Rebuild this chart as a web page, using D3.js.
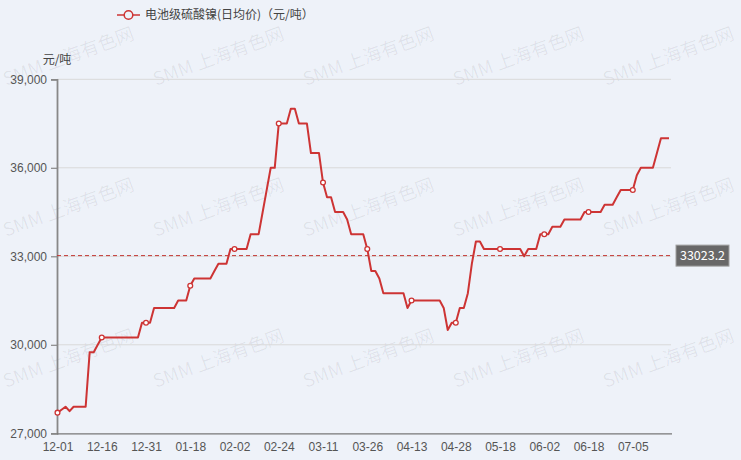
<!DOCTYPE html>
<html><head><meta charset="utf-8">
<script src="https://cdn.jsdelivr.net/npm/d3@7/dist/d3.min.js"></script>
<style>
html,body{margin:0;padding:0;background:#eef2f9;}
svg{display:block;font-family:"Microsoft YaHei","Noto Sans CJK SC","Noto Sans",sans-serif;}
</style></head><body>
<svg id="c" width="741" height="460"></svg>
<script>
const seriesName = "电池级硫酸镍(日均价)（元/吨）";
const yUnit = "元/吨";
const prices = [
  27700,27800,27900,27750,27900,27900,27900,27900,29750,29750,
  30000,30250,30250,30250,30250,30250,30250,30250,30250,30250,
  30250,30750,30750,30750,31250,31250,31250,31250,31250,31250,
  31500,31500,31500,32000,32250,32250,32250,32250,32250,32500,
  32750,32750,32750,33250,33250,33250,33250,33250,33750,33750,
  33750,34500,35250,36000,36000,37500,37500,37500,38000,38000,
  37500,37500,37500,36500,36500,36500,35500,35000,35000,34500,
  34500,34500,34250,33750,33750,33750,33750,33250,32500,32500,
  32250,31750,31750,31750,31750,31750,31750,31250,31500,31500,
  31500,31500,31500,31500,31500,31500,31250,30500,30750,30750,
  31250,31250,31750,32750,33500,33500,33250,33250,33250,33250,
  33250,33250,33250,33250,33250,33250,33000,33250,33250,33250,
  33750,33750,33750,34000,34000,34000,34250,34250,34250,34250,
  34250,34500,34500,34500,34500,34500,34750,34750,34750,35000,
  35250,35250,35250,35250,35750,36000,36000,36000,36000,36500,
  37000,37000,37000
];
const xTickLabels = ["12-01","12-16","12-31","01-18","02-02","02-24","03-11","03-26","04-13","04-28","05-18","06-02","06-18","07-05"];
const labelInterval = 11;
const yTicks = [27000,30000,33000,36000,39000];
const markValue = 33023.2;
const watermarkText = "SMM 上海有色网";

(function(){
const svg = d3.select("#c");
const W = 741, H = 460;
const gLeft = 57, gRight = 671, gTop = 79.3, gBottom = 433.3;
const lineColor = "#cd3434", markColor = "#c23531", textColor = "#555";

svg.append("rect").attr("width",W).attr("height",H).attr("fill","#eef2f9");

// watermarks
const wm = svg.append("g");
const wmStep = 150;
for (let r = 0; r < 3; r++) {
  for (let c = 0; c < 5; c++) {
    const wx = 6 + c*wmStep, wy = 86 + r*151;
    wm.append("text").attr("transform",`translate(${wx},${wy}) rotate(-20)`)
      .attr("font-size",18.5).attr("fill","#000").attr("fill-opacity",0.065)
      .text(watermarkText);
  }
}

const x = d3.scaleLinear().domain([0, prices.length-1]).range([gLeft+0.5, 669]);
const y = d3.scaleLinear().domain([27000,39000]).range([gBottom, gTop]);

// grid
svg.append("g").selectAll("line").data(yTicks.filter(d=>d!==27000)).join("line")
  .attr("x1",gLeft).attr("x2",gRight).attr("y1",d=>y(d)).attr("y2",d=>y(d))
  .attr("stroke","#d9d9d9").attr("stroke-width",1);

// y axis
const yAxis = d3.axisLeft(y).tickValues(yTicks).tickSize(6).tickPadding(4).tickFormat(d3.format(","));
const gy = svg.append("g").attr("transform",`translate(${gLeft},0)`).call(yAxis);
gy.select(".domain").attr("stroke","#888").attr("stroke-width",1.8);
gy.selectAll(".tick line").attr("stroke","#888").attr("stroke-width",1.2);
gy.selectAll("text").attr("fill",textColor).attr("font-size",12).attr("font-family",null);

// x axis
const tickIdx = xTickLabels.map((_,i)=>i*labelInterval);
const xAxis = d3.axisBottom(x).tickValues(tickIdx).tickSize(0).tickPadding(9)
  .tickFormat((d,i)=>xTickLabels[i]);
const gx = svg.append("g").attr("transform",`translate(0,${gBottom})`).call(xAxis);
gx.select(".domain").attr("d",`M${gLeft},0.5H${gRight+1}`).attr("stroke","#777").attr("stroke-width",1.2);
gx.selectAll("text").attr("fill",textColor).attr("font-size",12).attr("font-family",null);

// unit label
svg.append("text").attr("x",gLeft).attr("y",64).attr("text-anchor","middle")
  .attr("font-size",12).attr("fill","#444").text(yUnit);

// mark line
svg.append("line").attr("x1",gLeft).attr("x2",670).attr("y1",y(markValue)).attr("y2",y(markValue))
  .attr("stroke",markColor).attr("stroke-width",1).attr("stroke-dasharray","4,3");
const lb = svg.append("g").attr("transform",`translate(676,${y(markValue)})`);
lb.append("rect").attr("x",0).attr("y",-10.5).attr("width",53).attr("height",21)
  .attr("fill","#686868").attr("stroke","#a0a0a0").attr("stroke-width",1);
lb.append("text").attr("x",26.5).attr("y",0).attr("dy","0.36em").attr("text-anchor","middle")
  .attr("fill","#fff").attr("font-size",12.5).text(d3.format(".1f")(markValue));

// line
const line = d3.line().x((d,i)=>x(i)).y(d=>y(d));
svg.append("path").datum(prices).attr("d",line).attr("fill","none")
  .attr("stroke",lineColor).attr("stroke-width",2).attr("stroke-linejoin","round");

// symbols
svg.append("g").selectAll("circle").data(tickIdx).join("circle")
  .attr("cx",d=>x(d)).attr("cy",d=>y(prices[d])).attr("r",2.4)
  .attr("fill","#fff").attr("stroke",lineColor).attr("stroke-width",1.3);

// legend
const lg = svg.append("g").attr("transform","translate(117,15)");
lg.append("line").attr("x1",0).attr("x2",23).attr("y1",0).attr("y2",0).attr("stroke",lineColor).attr("stroke-width",1.5);
lg.append("circle").attr("cx",11.5).attr("cy",0).attr("r",4.3).attr("fill","#eef2f9").attr("stroke",lineColor).attr("stroke-width",1.5);
lg.append("text").attr("x",28).attr("y",0).attr("dy","0.35em").attr("font-size",12).attr("fill","#444").text(seriesName);
})();
</script>
</body></html>
